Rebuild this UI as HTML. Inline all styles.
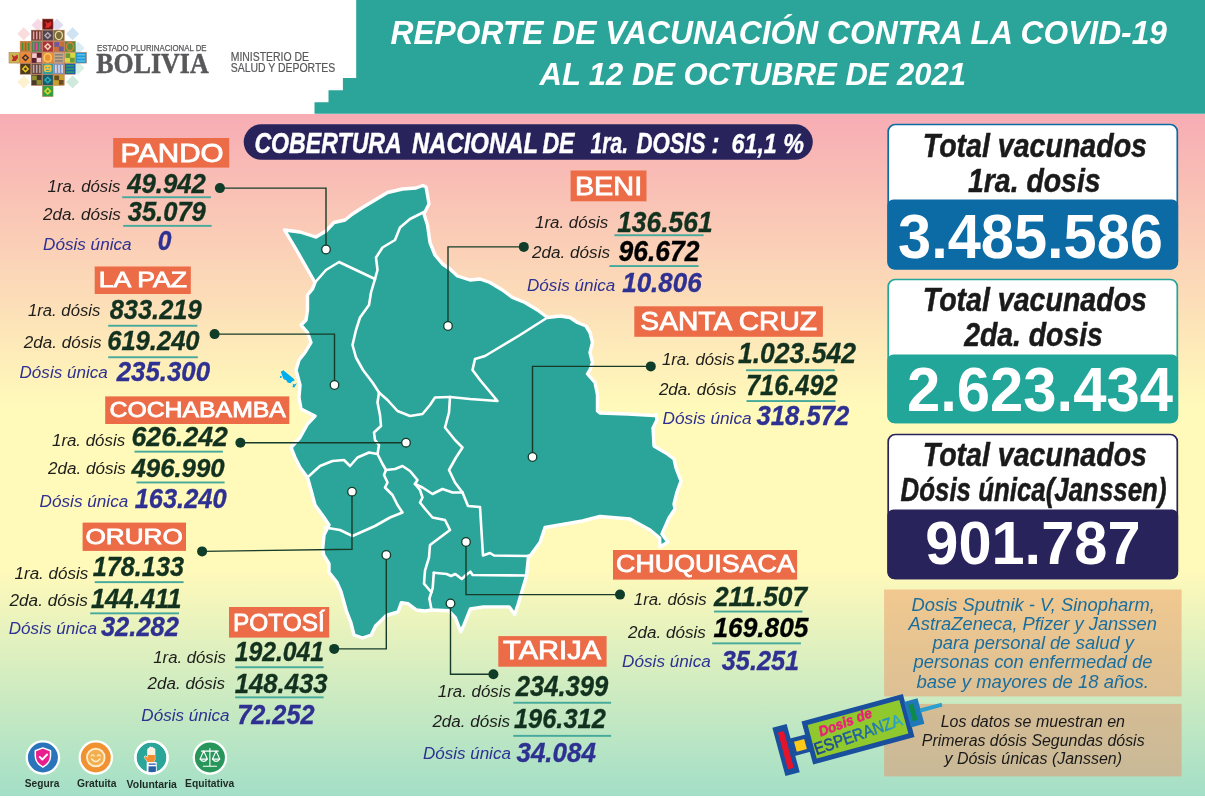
<!DOCTYPE html>
<html lang="es">
<head>
<meta charset="utf-8">
<title>Reporte de vacunación contra la COVID-19</title>
<style>
html,body{margin:0;padding:0;background:#fff;}
body{width:1205px;height:799px;overflow:hidden;font-family:'Liberation Sans', sans-serif;}
svg{display:block;}
text{white-space:pre;}
</style>
</head>
<body>
<svg width="1205" height="799" viewBox="0 0 1205 799">
<defs>
<linearGradient id="bg" x1="0" y1="0" x2="0" y2="1">
<stop offset="0" stop-color="#f7acb4"/>
<stop offset="0.425" stop-color="#fff9ba"/>
<stop offset="0.670" stop-color="#fff9ba"/>
<stop offset="1" stop-color="#a3dfc7"/>
</linearGradient>
<linearGradient id="esp" x1="0" y1="0" x2="1" y2="0">
<stop offset="0" stop-color="#1b3f8f"/><stop offset="0.6" stop-color="#1f6aa8"/><stop offset="1" stop-color="#2fb0c8"/>
</linearGradient>
<linearGradient id="ib1" x1="0" y1="0" x2="0" y2="1"><stop offset="0" stop-color="#f1c88f"/><stop offset="1" stop-color="#dcc094"/></linearGradient>
<linearGradient id="ib2" x1="0" y1="0" x2="0" y2="1"><stop offset="0" stop-color="#d5bc94"/><stop offset="1" stop-color="#c9b997"/></linearGradient>
</defs>

<rect x="0" y="0" width="1205" height="799" fill="#ffffff"/>
<rect x="0" y="114" width="1205" height="682" fill="url(#bg)"/>
<path d="M356.2,0 H1205 V113.7 H314.5 V102.2 H328.5 V90.2 H342.9 V78 H356.2 Z" fill="#2ba59a"/>
<text x="390.5" y="43.5" font-family="'Liberation Sans', sans-serif" font-size="34.0" font-weight="bold" font-style="italic" fill="#ffffff" textLength="776.5" lengthAdjust="spacingAndGlyphs">REPORTE DE VACUNACIÓN CONTRA LA COVID-19</text>
<text x="539.5" y="84.6" font-family="'Liberation Sans', sans-serif" font-size="31.0" font-weight="bold" font-style="italic" fill="#ffffff" textLength="426.5" lengthAdjust="spacingAndGlyphs">AL 12 DE OCTUBRE DE 2021</text>
<rect x="19.2" y="29.2" width="9.2" height="9.2" fill="#f9dcdc" transform="rotate(45 23.8 33.8)"/>
<rect x="68.0" y="29.2" width="9.2" height="9.2" fill="#cfe3f2" transform="rotate(45 72.6 33.8)"/>
<rect x="19.2" y="77.4" width="9.2" height="9.2" fill="#fdf1cf" transform="rotate(45 23.8 82)"/>
<rect x="68.0" y="77.4" width="9.2" height="9.2" fill="#cfe9dc" transform="rotate(45 72.6 82)"/>
<rect x="13.4" y="53.4" width="9.2" height="9.2" fill="#f6d5d8" transform="rotate(45 18 58)"/>
<rect x="73.4" y="43.4" width="9.2" height="9.2" fill="#d8ecf2" transform="rotate(45 78 48)"/>
<rect x="73.4" y="63.4" width="9.2" height="9.2" fill="#d8efe4" transform="rotate(45 78 68)"/>
<rect x="33.4" y="20.4" width="9.2" height="9.2" fill="#f6d8e6" transform="rotate(45 38 25)"/>
<rect x="52.4" y="20.4" width="9.2" height="9.2" fill="#e0dcf0" transform="rotate(45 57 25)"/>
<rect x="42.42" y="19.00" width="10.64" height="10.64" fill="#6d1418" stroke="#b5714a" stroke-width="0.5"/>
<path d="M44.92,21.20 l3,2 l3,-2 l0.5,3.5 l-2.5,3 l-4,0 l1.5,-2.5 z" fill="#e02a2a"/>
<rect x="31.28" y="30.14" width="10.64" height="10.64" fill="#6b3a2e" stroke="#b5714a" stroke-width="0.5"/>
<rect x="32.88" y="31.44" width="1.5" height="8.04" fill="#e6a0a8"/>
<rect x="35.98" y="31.44" width="1.5" height="8.04" fill="#e6a0a8"/>
<rect x="39.08" y="31.44" width="1.5" height="8.04" fill="#e6a0a8"/>
<rect x="42.42" y="30.14" width="10.64" height="10.64" fill="#4e4450" stroke="#b5714a" stroke-width="0.5"/>
<path d="M47.74,31.64 L51.56,35.46 L47.74,39.28 L43.92,35.46 Z" fill="#b8a8b0"/>
<rect x="46.54" y="34.26" width="2.4" height="2.4" fill="#4e4450" transform="rotate(45 47.74 35.46)"/>
<rect x="53.56" y="30.14" width="10.64" height="10.64" fill="#7a6a3a" stroke="#b5714a" stroke-width="0.5"/>
<ellipse cx="58.88" cy="35.46" rx="3.52" ry="4.12" fill="none" stroke="#e8d8a0" stroke-width="1.4"/>
<rect x="20.14" y="41.28" width="10.64" height="10.64" fill="#d87a2a" stroke="#b5714a" stroke-width="0.5"/>
<rect x="21.74" y="42.58" width="1.5" height="8.04" fill="#4a8a3a"/>
<rect x="24.84" y="42.58" width="1.5" height="8.04" fill="#4a8a3a"/>
<rect x="27.94" y="42.58" width="1.5" height="8.04" fill="#4a8a3a"/>
<rect x="31.28" y="41.28" width="10.64" height="10.64" fill="#3a8a4a" stroke="#b5714a" stroke-width="0.5"/>
<rect x="32.88" y="42.58" width="1.5" height="8.04" fill="#e84aa0"/>
<rect x="35.98" y="42.58" width="1.5" height="8.04" fill="#e84aa0"/>
<rect x="39.08" y="42.58" width="1.5" height="8.04" fill="#e84aa0"/>
<rect x="42.42" y="41.28" width="10.64" height="10.64" fill="#a8323a" stroke="#b5714a" stroke-width="0.5"/>
<path d="M47.74,42.78 L51.56,46.60 L47.74,50.42 L43.92,46.60 Z" fill="#f0d0b0"/>
<rect x="46.54" y="45.40" width="2.4" height="2.4" fill="#a8323a" transform="rotate(45 47.74 46.60)"/>
<rect x="53.56" y="41.28" width="10.64" height="10.64" fill="#c8703a" stroke="#b5714a" stroke-width="0.5"/>
<rect x="54.36" y="42.08" width="4.72" height="4.72" fill="#6a5aa0"/>
<rect x="58.88" y="46.60" width="4.72" height="4.72" fill="#6a5aa0"/>
<rect x="64.70" y="41.28" width="10.64" height="10.64" fill="#5a8a3a" stroke="#b5714a" stroke-width="0.5"/>
<ellipse cx="70.02" cy="46.60" rx="3.52" ry="4.12" fill="none" stroke="#d8803a" stroke-width="1.4"/>
<rect x="9.00" y="52.42" width="10.64" height="10.64" fill="#c8b850" stroke="#b5714a" stroke-width="0.5"/>
<path d="M11.50,54.62 l3,2 l3,-2 l0.5,3.5 l-2.5,3 l-4,0 l1.5,-2.5 z" fill="#c02a2a"/>
<rect x="20.14" y="52.42" width="10.64" height="10.64" fill="#f08a30" stroke="#b5714a" stroke-width="0.5"/>
<path d="M25.46,53.92 L29.28,57.74 L25.46,61.56 L21.64,57.74 Z" fill="#3a3030"/>
<rect x="24.26" y="56.54" width="2.4" height="2.4" fill="#f08a30" transform="rotate(45 25.46 57.74)"/>
<rect x="31.28" y="52.42" width="10.64" height="10.64" fill="#5a2030" stroke="#b5714a" stroke-width="0.5"/>
<rect x="32.08" y="53.22" width="4.72" height="4.72" fill="#f4c8c8"/>
<rect x="36.60" y="57.74" width="4.72" height="4.72" fill="#f4c8c8"/>
<rect x="42.42" y="52.42" width="10.64" height="10.64" fill="#f09030" stroke="#b5714a" stroke-width="0.5"/>
<ellipse cx="47.74" cy="57.74" rx="3.52" ry="4.12" fill="none" stroke="#fbd070" stroke-width="1.4"/>
<rect x="53.56" y="52.42" width="10.64" height="10.64" fill="#c8a880" stroke="#b5714a" stroke-width="0.5"/>
<rect x="54.86" y="54.02" width="8.04" height="1.5" fill="#808080"/>
<rect x="54.86" y="57.12" width="8.04" height="1.5" fill="#808080"/>
<rect x="54.86" y="60.22" width="8.04" height="1.5" fill="#808080"/>
<rect x="64.70" y="52.42" width="10.64" height="10.64" fill="#d8d840" stroke="#b5714a" stroke-width="0.5"/>
<rect x="65.50" y="53.22" width="4.72" height="4.72" fill="#6a9a3a"/>
<rect x="70.02" y="57.74" width="4.72" height="4.72" fill="#6a9a3a"/>
<rect x="75.84" y="52.42" width="10.64" height="10.64" fill="#1f9ad6" stroke="#b5714a" stroke-width="0.5"/>
<rect x="77.14" y="54.02" width="8.04" height="1.5" fill="#58c0ea"/>
<rect x="77.14" y="57.12" width="8.04" height="1.5" fill="#58c0ea"/>
<rect x="77.14" y="60.22" width="8.04" height="1.5" fill="#58c0ea"/>
<rect x="20.14" y="63.56" width="10.64" height="10.64" fill="#4a3a20" stroke="#b5714a" stroke-width="0.5"/>
<path d="M25.46,65.06 L29.28,68.88 L25.46,72.70 L21.64,68.88 Z" fill="#e8c020"/>
<rect x="24.26" y="67.68" width="2.4" height="2.4" fill="#4a3a20" transform="rotate(45 25.46 68.88)"/>
<rect x="31.28" y="63.56" width="10.64" height="10.64" fill="#6a4a40" stroke="#b5714a" stroke-width="0.5"/>
<rect x="32.88" y="64.86" width="1.5" height="8.04" fill="#b8a8a8"/>
<rect x="35.98" y="64.86" width="1.5" height="8.04" fill="#b8a8a8"/>
<rect x="39.08" y="64.86" width="1.5" height="8.04" fill="#b8a8a8"/>
<rect x="42.42" y="63.56" width="10.64" height="10.64" fill="#30a0a0" stroke="#b5714a" stroke-width="0.5"/>
<rect x="43.92" y="64.76" width="7.64" height="7.14" rx="2" fill="#f0c040"/>
<rect x="45.42" y="67.16" width="1.6" height="1" fill="#30a0a0"/><rect x="48.42" y="67.16" width="1.6" height="1" fill="#30a0a0"/><rect x="46.02" y="69.96" width="3.4" height="1" fill="#30a0a0"/>
<rect x="53.56" y="63.56" width="10.64" height="10.64" fill="#8090c0" stroke="#b5714a" stroke-width="0.5"/>
<rect x="55.16" y="64.86" width="1.5" height="8.04" fill="#e0e0e0"/>
<rect x="58.26" y="64.86" width="1.5" height="8.04" fill="#e0e0e0"/>
<rect x="61.36" y="64.86" width="1.5" height="8.04" fill="#e0e0e0"/>
<rect x="64.70" y="63.56" width="10.64" height="10.64" fill="#2060a8" stroke="#b5714a" stroke-width="0.5"/>
<rect x="66.00" y="65.16" width="8.04" height="1.5" fill="#30a060"/>
<rect x="66.00" y="68.26" width="8.04" height="1.5" fill="#30a060"/>
<rect x="66.00" y="71.36" width="8.04" height="1.5" fill="#30a060"/>
<rect x="31.28" y="74.70" width="10.64" height="10.64" fill="#4a3a28" stroke="#b5714a" stroke-width="0.5"/>
<rect x="32.08" y="75.50" width="4.72" height="4.72" fill="#909030"/>
<rect x="36.60" y="80.02" width="4.72" height="4.72" fill="#909030"/>
<rect x="42.42" y="74.70" width="10.64" height="10.64" fill="#1d5a68" stroke="#b5714a" stroke-width="0.5"/>
<path d="M47.74,76.20 L51.56,80.02 L47.74,83.84 L43.92,80.02 Z" fill="#20b0c0"/>
<rect x="46.54" y="78.82" width="2.4" height="2.4" fill="#1d5a68" transform="rotate(45 47.74 80.02)"/>
<rect x="53.56" y="74.70" width="10.64" height="10.64" fill="#c8a030" stroke="#b5714a" stroke-width="0.5"/>
<rect x="54.36" y="75.50" width="4.72" height="4.72" fill="#6a4a20"/>
<rect x="58.88" y="80.02" width="4.72" height="4.72" fill="#6a4a20"/>
<rect x="42.42" y="85.84" width="10.64" height="10.64" fill="#30a040" stroke="#b5714a" stroke-width="0.5"/>
<path d="M47.74,87.34 L51.56,91.16 L47.74,94.98 L43.92,91.16 Z" fill="#d8d830"/>
<rect x="46.54" y="89.96" width="2.4" height="2.4" fill="#30a040" transform="rotate(45 47.74 91.16)"/>
<text x="97.0" y="50.6" font-family="'Liberation Sans', sans-serif" font-size="8.8" font-weight="normal" font-style="normal" fill="#58585a" textLength="109.5" lengthAdjust="spacingAndGlyphs" stroke="#58585a" stroke-width="0.25">ESTADO PLURINACIONAL DE</text>
<text x="96.3" y="72.5" font-family="'Liberation Serif', serif" font-size="29.6" font-weight="bold" font-style="normal" fill="#58585a" textLength="112.3" lengthAdjust="spacingAndGlyphs" stroke="#58585a" stroke-width="0.5">BOLIVIA</text>
<text x="230.7" y="60.8" font-family="'Liberation Sans', sans-serif" font-size="12.6" font-weight="normal" font-style="normal" fill="#58585a" textLength="78.3" lengthAdjust="spacingAndGlyphs" stroke="#58585a" stroke-width="0.2">MINISTERIO DE</text>
<text x="230.7" y="72.1" font-family="'Liberation Sans', sans-serif" font-size="12.6" font-weight="normal" font-style="normal" fill="#58585a" textLength="104.6" lengthAdjust="spacingAndGlyphs" stroke="#58585a" stroke-width="0.2">SALUD Y DEPORTES</text>
<rect x="243.7" y="124.2" width="569.1" height="35.6" rx="17.8" fill="#29235c"/>
<text x="254.4" y="153.0" font-family="'Liberation Sans', sans-serif" font-size="30.0" font-weight="bold" font-style="italic" fill="#ffffff" textLength="147.4" lengthAdjust="spacingAndGlyphs" stroke="#ffffff" stroke-width="0.45">COBERTURA</text>
<text x="412.0" y="153.0" font-family="'Liberation Sans', sans-serif" font-size="30.0" font-weight="bold" font-style="italic" fill="#ffffff" textLength="126.0" lengthAdjust="spacingAndGlyphs" stroke="#ffffff" stroke-width="0.45">NACIONAL</text>
<text x="542.4" y="153.0" font-family="'Liberation Sans', sans-serif" font-size="30.0" font-weight="bold" font-style="italic" fill="#ffffff" textLength="32.1" lengthAdjust="spacingAndGlyphs" stroke="#ffffff" stroke-width="0.45">DE</text>
<text x="590.5" y="153.0" font-family="'Liberation Sans', sans-serif" font-size="30.0" font-weight="bold" font-style="italic" fill="#ffffff" textLength="37.5" lengthAdjust="spacingAndGlyphs" stroke="#ffffff" stroke-width="0.45">1ra.</text>
<text x="636.5" y="153.0" font-family="'Liberation Sans', sans-serif" font-size="30.0" font-weight="bold" font-style="italic" fill="#ffffff" textLength="69.0" lengthAdjust="spacingAndGlyphs" stroke="#ffffff" stroke-width="0.45">DOSIS</text>
<text x="711.5" y="153.0" font-family="'Liberation Sans', sans-serif" font-size="30.0" font-weight="bold" font-style="italic" fill="#ffffff" textLength="8.0" lengthAdjust="spacingAndGlyphs" stroke="#ffffff" stroke-width="0.45">:</text>
<text x="731.5" y="153.0" font-family="'Liberation Sans', sans-serif" font-size="27.5" font-weight="bold" font-style="italic" fill="#ffffff" textLength="72.5" lengthAdjust="spacingAndGlyphs" stroke="#ffffff" stroke-width="0.4">61,1 %</text>
<polygon points="284.5,230.0 300.0,232.0 311.0,235.5 316.0,237.0 326.0,231.0 334.0,222.5 345.0,220.0 352.5,214.0 362.5,207.5 375.0,200.0 387.5,192.5 402.5,189.0 416.0,188.0 423.0,185.5 426.0,187.0 427.5,195.0 429.0,204.0 424.0,214.0 427.5,225.0 430.0,242.5 435.0,255.0 442.5,264.0 450.0,269.0 457.5,276.0 470.0,280.0 480.0,279.0 490.0,282.5 502.5,290.0 512.5,297.5 525.0,302.5 537.5,310.0 547.5,317.5 560.0,316.0 570.0,317.5 577.5,322.5 586.0,326.0 590.0,332.5 592.5,342.5 590.0,352.5 592.5,362.5 590.0,370.0 587.5,374.0 595.0,382.5 597.5,395.0 597.5,411.0 600.0,413.0 628.0,414.0 654.0,415.6 656.0,414.5 657.0,420.0 653.0,428.0 654.0,446.0 666.0,453.0 674.0,459.0 676.0,468.0 681.0,481.0 677.0,492.0 674.0,504.0 675.0,509.0 669.0,518.0 662.0,534.0 668.0,542.0 660.0,547.0 659.6,538.0 650.0,530.0 630.0,519.0 600.0,516.5 582.5,521.0 545.0,527.5 540.0,542.5 530.0,556.0 528.5,556.0 526.5,576.0 518.0,604.7 514.7,614.4 509.3,606.9 483.4,606.9 470.4,609.0 464.0,625.0 460.7,631.7 455.3,617.7 448.9,610.8 431.6,610.0 425.0,611.0 416.5,610.0 407.9,603.6 401.4,602.6 398.0,612.0 386.3,615.5 375.5,626.0 371.2,635.0 362.6,638.0 354.0,635.0 350.7,622.0 346.4,611.0 341.0,591.8 336.7,582.0 329.0,572.4 329.0,563.7 323.7,555.0 322.7,548.6 324.0,535.0 329.0,525.0 324.0,517.5 315.0,505.0 311.0,490.0 307.5,477.5 300.0,467.5 295.0,457.5 291.0,447.5 300.0,437.5 307.5,424.0 315.0,416.0 301.0,409.0 299.0,397.5 300.0,385.0 296.0,370.0 299.0,360.0 305.0,352.5 311.0,342.5 307.5,332.5 301.0,325.0 306.0,320.0 307.5,310.0 307.5,295.0 312.5,289.0 315.0,282.5 305.0,265.0 295.0,247.5" fill="#2ba59a" stroke="#ffffff" stroke-width="3.4" stroke-linejoin="round"/>
<polyline points="315.0,282.5 326.0,270.0 339.0,262.0 375.0,279.0" fill="none" stroke="#ffffff" stroke-width="2.6" stroke-linejoin="round" stroke-linecap="round"/>
<polyline points="424.0,212.0 410.0,219.0 400.0,227.5 395.0,240.0 382.5,247.5 376.0,257.5 377.5,270.0 375.0,279.0" fill="none" stroke="#ffffff" stroke-width="2.6" stroke-linejoin="round" stroke-linecap="round"/>
<polyline points="375.0,279.0 371.0,292.5 369.0,305.0 360.0,317.5 356.0,330.0 352.5,345.0 356.0,357.5 363.0,370.0 372.5,382.5 379.0,392.5" fill="none" stroke="#ffffff" stroke-width="2.6" stroke-linejoin="round" stroke-linecap="round"/>
<polyline points="379.0,392.5 387.5,400.0 397.5,411.0 410.0,416.0 422.5,414.0 430.0,405.0 435.0,397.5 450.0,397.0" fill="none" stroke="#ffffff" stroke-width="2.6" stroke-linejoin="round" stroke-linecap="round"/>
<polyline points="450.0,397.0 470.0,399.0 497.5,401.0 480.0,380.0 472.5,370.0 475.0,359.0 485.0,356.0 495.0,350.0 520.0,335.0 547.5,317.5" fill="none" stroke="#ffffff" stroke-width="2.6" stroke-linejoin="round" stroke-linecap="round"/>
<polyline points="379.0,392.5 377.5,402.5 380.0,415.0 381.0,426.0 374.0,432.5 375.0,440.0 379.0,445.0 377.5,454.0" fill="none" stroke="#ffffff" stroke-width="2.6" stroke-linejoin="round" stroke-linecap="round"/>
<polyline points="377.5,454.0 369.0,452.5 357.5,457.5 350.0,466.0 344.0,460.0 332.5,461.0 320.0,466.0 309.0,476.0" fill="none" stroke="#ffffff" stroke-width="2.6" stroke-linejoin="round" stroke-linecap="round"/>
<polyline points="377.5,454.0 382.5,464.0 386.0,470.0" fill="none" stroke="#ffffff" stroke-width="2.6" stroke-linejoin="round" stroke-linecap="round"/>
<polyline points="386.0,470.0 384.0,475.0 387.5,482.5 385.0,487.5 392.5,495.0 397.5,505.0 402.5,512.5 390.0,517.5 375.0,526.0 352.5,536.0 340.0,530.0 325.0,527.5" fill="none" stroke="#ffffff" stroke-width="2.6" stroke-linejoin="round" stroke-linecap="round"/>
<polyline points="386.0,470.0 395.0,469.0 402.5,466.0 410.0,471.0 417.5,480.0 415.0,484.0" fill="none" stroke="#ffffff" stroke-width="2.6" stroke-linejoin="round" stroke-linecap="round"/>
<polyline points="450.0,397.0 449.0,412.5 445.0,427.5 455.0,440.0 462.5,447.5 456.0,457.5 449.0,470.0 455.0,482.5 462.5,492.5" fill="none" stroke="#ffffff" stroke-width="2.6" stroke-linejoin="round" stroke-linecap="round"/>
<polyline points="415.0,484.0 422.5,487.5 432.5,494.0 442.5,489.0 452.5,492.5 462.5,492.5" fill="none" stroke="#ffffff" stroke-width="2.6" stroke-linejoin="round" stroke-linecap="round"/>
<polyline points="415.0,484.0 420.0,490.0 422.5,497.5 420.0,502.5 426.0,510.0 432.5,517.5 445.0,520.0 450.0,530.0 440.0,537.5 430.0,545.0 429.0,557.5 425.0,570.6 424.0,583.6 429.4,590.0 431.5,592.0" fill="none" stroke="#ffffff" stroke-width="2.6" stroke-linejoin="round" stroke-linecap="round"/>
<polyline points="462.5,492.5 468.0,506.0 480.0,507.0 483.0,555.5 490.0,553.0 494.0,555.5 528.5,556.0" fill="none" stroke="#ffffff" stroke-width="2.6" stroke-linejoin="round" stroke-linecap="round"/>
<polyline points="526.5,575.5 472.6,575.0 470.4,571.7 466.0,575.0 461.8,579.0 455.3,574.0 451.0,576.0 446.7,574.0 433.8,572.8" fill="none" stroke="#ffffff" stroke-width="2.6" stroke-linejoin="round" stroke-linecap="round"/>
<polyline points="433.8,572.8 432.7,588.0 429.4,598.7 431.6,610.0" fill="none" stroke="#ffffff" stroke-width="2.6" stroke-linejoin="round" stroke-linecap="round"/>
<path d="M280.8,371.8 L283.3,370.2 L294,379 L294.6,380.6 L292,381.6 L290.5,383.2 L287.5,382.6 L286.5,380.5 L283.5,379 L282.3,376 Z" fill="#00aeef"/>
<path d="M292.4,383.6 L294.3,384.4 L297,383.2 L294.2,387.6 L292.3,387 L293.2,385.2 Z" fill="#00aeef"/>
<circle cx="280.8" cy="377" r="1" fill="#00aeef"/>
<polyline points="219.9,188.1 326.0,188.1 326.0,249.5" fill="none" stroke="#173b29" stroke-width="1.4"/>
<circle cx="219.9" cy="188.1" r="5" fill="#0f3d2a"/>
<circle cx="326" cy="249.5" r="4.3" fill="#ffffff" stroke="#173b29" stroke-width="1.3"/>
<polyline points="214.6,334.1 334.5,334.1 334.5,385.0" fill="none" stroke="#173b29" stroke-width="1.4"/>
<circle cx="214.6" cy="334.1" r="5" fill="#0f3d2a"/>
<circle cx="334.5" cy="385" r="4.3" fill="#ffffff" stroke="#173b29" stroke-width="1.3"/>
<polyline points="240.4,442.7 406.0,442.7" fill="none" stroke="#173b29" stroke-width="1.4"/>
<circle cx="240.4" cy="442.7" r="5" fill="#0f3d2a"/>
<circle cx="406" cy="442.7" r="4.3" fill="#ffffff" stroke="#173b29" stroke-width="1.3"/>
<polyline points="202.1,551.4 352.0,549.2 352.0,491.7" fill="none" stroke="#173b29" stroke-width="1.4"/>
<circle cx="202.1" cy="551.4" r="5" fill="#0f3d2a"/>
<circle cx="352" cy="491.7" r="4.3" fill="#ffffff" stroke="#173b29" stroke-width="1.3"/>
<polyline points="334.2,648.9 386.3,648.9 386.3,555.0" fill="none" stroke="#173b29" stroke-width="1.4"/>
<circle cx="334.2" cy="648.9" r="5" fill="#0f3d2a"/>
<circle cx="386.3" cy="555" r="4.3" fill="#ffffff" stroke="#173b29" stroke-width="1.3"/>
<polyline points="523.8,246.9 448.0,246.9 448.0,326.0" fill="none" stroke="#173b29" stroke-width="1.4"/>
<circle cx="523.8" cy="246.9" r="5" fill="#0f3d2a"/>
<circle cx="448" cy="326" r="4.3" fill="#ffffff" stroke="#173b29" stroke-width="1.3"/>
<polyline points="650.8,366.4 532.5,366.4 532.5,457.0" fill="none" stroke="#173b29" stroke-width="1.4"/>
<circle cx="650.8" cy="366.4" r="5" fill="#0f3d2a"/>
<circle cx="532.5" cy="457" r="4.3" fill="#ffffff" stroke="#173b29" stroke-width="1.3"/>
<polyline points="620.0,594.6 466.0,594.6 466.0,542.0" fill="none" stroke="#173b29" stroke-width="1.4"/>
<circle cx="620" cy="594.6" r="5" fill="#0f3d2a"/>
<circle cx="466" cy="542" r="4.3" fill="#ffffff" stroke="#173b29" stroke-width="1.3"/>
<polyline points="493.4,674.2 450.5,674.2 450.5,603.5" fill="none" stroke="#173b29" stroke-width="1.4"/>
<circle cx="493.4" cy="674.2" r="5" fill="#0f3d2a"/>
<circle cx="450.5" cy="603.5" r="4.3" fill="#ffffff" stroke="#173b29" stroke-width="1.3"/>
<rect x="113.2" y="138.0" width="116.0" height="29.6" fill="#ec6c48"/>
<text x="120.5" y="161.7" font-family="'Liberation Sans', sans-serif" font-size="25.9" font-weight="normal" font-style="normal" fill="#ffffff" textLength="103.1" lengthAdjust="spacingAndGlyphs" stroke="#ffffff" stroke-width="0.8">PANDO</text>
<text x="47.6" y="192.3" font-family="'Liberation Sans', sans-serif" font-size="16.8" font-weight="normal" font-style="italic" fill="#1d1d1b" textLength="72.7" lengthAdjust="spacingAndGlyphs">1ra. dósis</text>
<text x="127.2" y="192.6" font-family="'Liberation Sans', sans-serif" font-size="27.8" font-weight="bold" font-style="italic" fill="#12321f" textLength="78.6" lengthAdjust="spacingAndGlyphs" stroke="#12321f" stroke-width="0.35">49.942</text>
<rect x="122.2" y="196.3" width="88.7" height="1.9" fill="#45a99b"/>
<text x="43.0" y="220.0" font-family="'Liberation Sans', sans-serif" font-size="16.8" font-weight="normal" font-style="italic" fill="#1d1d1b" textLength="77.8" lengthAdjust="spacingAndGlyphs">2da. dósis</text>
<text x="127.7" y="220.7" font-family="'Liberation Sans', sans-serif" font-size="27.3" font-weight="bold" font-style="italic" fill="#12321f" textLength="78.1" lengthAdjust="spacingAndGlyphs" stroke="#12321f" stroke-width="0.35">35.079</text>
<rect x="123.2" y="224.9" width="88.4" height="1.9" fill="#45a99b"/>
<text x="43.0" y="250.0" font-family="'Liberation Sans', sans-serif" font-size="16.8" font-weight="normal" font-style="italic" fill="#2e3192" textLength="88.6" lengthAdjust="spacingAndGlyphs">Dósis única</text>
<text x="157.8" y="250.2" font-family="'Liberation Sans', sans-serif" font-size="27.0" font-weight="bold" font-style="italic" fill="#2e3192" textLength="13.7" lengthAdjust="spacingAndGlyphs" stroke="#2e3192" stroke-width="0.35">0</text>
<rect x="94.7" y="266.5" width="96.1" height="27.5" fill="#ec6c48"/>
<text x="98.7" y="287.0" font-family="'Liberation Sans', sans-serif" font-size="21.4" font-weight="normal" font-style="normal" fill="#ffffff" textLength="88.3" lengthAdjust="spacingAndGlyphs" stroke="#ffffff" stroke-width="0.8">LA PAZ</text>
<text x="28.0" y="316.1" font-family="'Liberation Sans', sans-serif" font-size="16.8" font-weight="normal" font-style="italic" fill="#1d1d1b" textLength="72.3" lengthAdjust="spacingAndGlyphs">1ra. dósis</text>
<text x="109.7" y="319.0" font-family="'Liberation Sans', sans-serif" font-size="28.1" font-weight="bold" font-style="italic" fill="#12321f" textLength="91.9" lengthAdjust="spacingAndGlyphs" stroke="#12321f" stroke-width="0.35">833.219</text>
<rect x="108.2" y="324.8" width="89.1" height="1.9" fill="#45a99b"/>
<text x="23.8" y="347.9" font-family="'Liberation Sans', sans-serif" font-size="16.8" font-weight="normal" font-style="italic" fill="#1d1d1b" textLength="77.8" lengthAdjust="spacingAndGlyphs">2da. dósis</text>
<text x="107.2" y="350.1" font-family="'Liberation Sans', sans-serif" font-size="27.0" font-weight="bold" font-style="italic" fill="#12321f" textLength="92.4" lengthAdjust="spacingAndGlyphs" stroke="#12321f" stroke-width="0.35">619.240</text>
<rect x="108.2" y="356.3" width="89.6" height="1.9" fill="#45a99b"/>
<text x="19.5" y="377.9" font-family="'Liberation Sans', sans-serif" font-size="16.8" font-weight="normal" font-style="italic" fill="#2e3192" textLength="88.3" lengthAdjust="spacingAndGlyphs">Dósis única</text>
<text x="116.7" y="381.1" font-family="'Liberation Sans', sans-serif" font-size="27.8" font-weight="bold" font-style="italic" fill="#2e3192" textLength="93.4" lengthAdjust="spacingAndGlyphs" stroke="#2e3192" stroke-width="0.35">235.300</text>
<rect x="105.2" y="396.4" width="184.1" height="27.6" fill="#ec6c48"/>
<text x="109.5" y="417.4" font-family="'Liberation Sans', sans-serif" font-size="21.4" font-weight="normal" font-style="normal" fill="#ffffff" textLength="176.4" lengthAdjust="spacingAndGlyphs" stroke="#ffffff" stroke-width="0.8">COCHABAMBA</text>
<text x="52.0" y="445.6" font-family="'Liberation Sans', sans-serif" font-size="16.8" font-weight="normal" font-style="italic" fill="#1d1d1b" textLength="73.1" lengthAdjust="spacingAndGlyphs">1ra. dósis</text>
<text x="131.5" y="446.3" font-family="'Liberation Sans', sans-serif" font-size="27.9" font-weight="bold" font-style="italic" fill="#12321f" textLength="96.4" lengthAdjust="spacingAndGlyphs" stroke="#12321f" stroke-width="0.35">626.242</text>
<rect x="134.5" y="450.7" width="88.4" height="1.9" fill="#45a99b"/>
<text x="48.0" y="474.3" font-family="'Liberation Sans', sans-serif" font-size="16.8" font-weight="normal" font-style="italic" fill="#1d1d1b" textLength="77.8" lengthAdjust="spacingAndGlyphs">2da. dósis</text>
<text x="131.5" y="477.1" font-family="'Liberation Sans', sans-serif" font-size="26.6" font-weight="bold" font-style="italic" fill="#12321f" textLength="93.1" lengthAdjust="spacingAndGlyphs" stroke="#12321f" stroke-width="0.35">496.990</text>
<rect x="136.5" y="481.5" width="88.1" height="1.9" fill="#45a99b"/>
<text x="39.6" y="506.6" font-family="'Liberation Sans', sans-serif" font-size="16.8" font-weight="normal" font-style="italic" fill="#2e3192" textLength="88.7" lengthAdjust="spacingAndGlyphs">Dósis única</text>
<text x="134.7" y="507.5" font-family="'Liberation Sans', sans-serif" font-size="27.8" font-weight="bold" font-style="italic" fill="#2e3192" textLength="91.9" lengthAdjust="spacingAndGlyphs" stroke="#2e3192" stroke-width="0.35">163.240</text>
<rect x="82.6" y="522.6" width="103.4" height="28.3" fill="#ec6c48"/>
<text x="85.5" y="544.3" font-family="'Liberation Sans', sans-serif" font-size="22.4" font-weight="normal" font-style="normal" fill="#ffffff" textLength="97.3" lengthAdjust="spacingAndGlyphs" stroke="#ffffff" stroke-width="0.8">ORURO</text>
<text x="14.5" y="578.5" font-family="'Liberation Sans', sans-serif" font-size="16.8" font-weight="normal" font-style="italic" fill="#1d1d1b" textLength="73.8" lengthAdjust="spacingAndGlyphs">1ra. dósis</text>
<text x="92.7" y="575.7" font-family="'Liberation Sans', sans-serif" font-size="27.8" font-weight="bold" font-style="italic" fill="#12321f" textLength="91.3" lengthAdjust="spacingAndGlyphs" stroke="#12321f" stroke-width="0.35">178.133</text>
<rect x="94.7" y="581.2" width="88.9" height="1.9" fill="#45a99b"/>
<text x="9.5" y="606.3" font-family="'Liberation Sans', sans-serif" font-size="16.8" font-weight="normal" font-style="italic" fill="#1d1d1b" textLength="78.3" lengthAdjust="spacingAndGlyphs">2da. dósis</text>
<text x="90.9" y="607.7" font-family="'Liberation Sans', sans-serif" font-size="27.8" font-weight="bold" font-style="italic" fill="#12321f" textLength="90.6" lengthAdjust="spacingAndGlyphs" stroke="#12321f" stroke-width="0.35">144.411</text>
<rect x="90.2" y="612.4" width="88.8" height="1.9" fill="#45a99b"/>
<text x="8.8" y="634.3" font-family="'Liberation Sans', sans-serif" font-size="16.8" font-weight="normal" font-style="italic" fill="#2e3192" textLength="88.2" lengthAdjust="spacingAndGlyphs">Dósis única</text>
<text x="100.9" y="636.3" font-family="'Liberation Sans', sans-serif" font-size="27.4" font-weight="bold" font-style="italic" fill="#2e3192" textLength="78.1" lengthAdjust="spacingAndGlyphs" stroke="#2e3192" stroke-width="0.35">32.282</text>
<rect x="229.0" y="607.0" width="100.2" height="30.6" fill="#ec6c48"/>
<text x="233.0" y="631.0" font-family="'Liberation Sans', sans-serif" font-size="24.1" font-weight="normal" font-style="normal" fill="#ffffff" textLength="91.8" lengthAdjust="spacingAndGlyphs" stroke="#ffffff" stroke-width="0.8">POTOSÍ</text>
<text x="153.3" y="663.4" font-family="'Liberation Sans', sans-serif" font-size="16.8" font-weight="normal" font-style="italic" fill="#1d1d1b" textLength="72.5" lengthAdjust="spacingAndGlyphs">1ra. dósis</text>
<text x="234.7" y="661.1" font-family="'Liberation Sans', sans-serif" font-size="27.4" font-weight="bold" font-style="italic" fill="#12321f" textLength="89.4" lengthAdjust="spacingAndGlyphs" stroke="#12321f" stroke-width="0.35">192.041</text>
<rect x="235.2" y="666.3" width="88.4" height="1.9" fill="#45a99b"/>
<text x="147.6" y="688.7" font-family="'Liberation Sans', sans-serif" font-size="16.8" font-weight="normal" font-style="italic" fill="#1d1d1b" textLength="77.5" lengthAdjust="spacingAndGlyphs">2da. dósis</text>
<text x="234.7" y="692.7" font-family="'Liberation Sans', sans-serif" font-size="28.2" font-weight="bold" font-style="italic" fill="#12321f" textLength="92.9" lengthAdjust="spacingAndGlyphs" stroke="#12321f" stroke-width="0.35">148.433</text>
<rect x="235.2" y="696.4" width="88.4" height="1.9" fill="#45a99b"/>
<text x="141.3" y="720.5" font-family="'Liberation Sans', sans-serif" font-size="16.8" font-weight="normal" font-style="italic" fill="#2e3192" textLength="88.3" lengthAdjust="spacingAndGlyphs">Dósis única</text>
<text x="237.2" y="724.0" font-family="'Liberation Sans', sans-serif" font-size="27.8" font-weight="bold" font-style="italic" fill="#2e3192" textLength="77.4" lengthAdjust="spacingAndGlyphs" stroke="#2e3192" stroke-width="0.35">72.252</text>
<rect x="570.6" y="170.5" width="75.9" height="30.8" fill="#ec6c48"/>
<text x="574.9" y="194.7" font-family="'Liberation Sans', sans-serif" font-size="25.1" font-weight="normal" font-style="normal" fill="#ffffff" textLength="67.3" lengthAdjust="spacingAndGlyphs" stroke="#ffffff" stroke-width="0.8">BENI</text>
<text x="535.0" y="228.4" font-family="'Liberation Sans', sans-serif" font-size="16.8" font-weight="normal" font-style="italic" fill="#1d1d1b" textLength="73.3" lengthAdjust="spacingAndGlyphs">1ra. dósis</text>
<text x="617.2" y="231.9" font-family="'Liberation Sans', sans-serif" font-size="28.7" font-weight="bold" font-style="italic" fill="#12321f" textLength="95.4" lengthAdjust="spacingAndGlyphs" stroke="#12321f" stroke-width="0.35">136.561</text>
<rect x="614.4" y="234.3" width="89.2" height="1.9" fill="#45a99b"/>
<text x="532.0" y="258.0" font-family="'Liberation Sans', sans-serif" font-size="16.8" font-weight="normal" font-style="italic" fill="#1d1d1b" textLength="78.0" lengthAdjust="spacingAndGlyphs">2da. dósis</text>
<text x="618.5" y="260.7" font-family="'Liberation Sans', sans-serif" font-size="28.7" font-weight="bold" font-style="italic" fill="#000000" textLength="81.0" lengthAdjust="spacingAndGlyphs" stroke="#000000" stroke-width="0.35">96.672</text>
<rect x="609.4" y="265.1" width="89.2" height="1.9" fill="#45a99b"/>
<text x="527.0" y="291.3" font-family="'Liberation Sans', sans-serif" font-size="16.8" font-weight="normal" font-style="italic" fill="#2e3192" textLength="88.3" lengthAdjust="spacingAndGlyphs">Dósis única</text>
<text x="622.2" y="291.5" font-family="'Liberation Sans', sans-serif" font-size="28.2" font-weight="bold" font-style="italic" fill="#2e3192" textLength="79.4" lengthAdjust="spacingAndGlyphs" stroke="#2e3192" stroke-width="0.35">10.806</text>
<rect x="634.3" y="306.3" width="188.6" height="30.5" fill="#ec6c48"/>
<text x="640.3" y="330.3" font-family="'Liberation Sans', sans-serif" font-size="26.0" font-weight="normal" font-style="normal" fill="#ffffff" textLength="176.8" lengthAdjust="spacingAndGlyphs" stroke="#ffffff" stroke-width="0.8">SANTA CRUZ</text>
<text x="661.9" y="365.4" font-family="'Liberation Sans', sans-serif" font-size="16.8" font-weight="normal" font-style="italic" fill="#1d1d1b" textLength="72.7" lengthAdjust="spacingAndGlyphs">1ra. dósis</text>
<text x="738.0" y="362.6" font-family="'Liberation Sans', sans-serif" font-size="29.0" font-weight="bold" font-style="italic" fill="#12321f" textLength="117.9" lengthAdjust="spacingAndGlyphs" stroke="#12321f" stroke-width="0.35">1.023.542</text>
<rect x="746.0" y="369.3" width="88.7" height="1.9" fill="#45a99b"/>
<text x="658.9" y="395.0" font-family="'Liberation Sans', sans-serif" font-size="16.8" font-weight="normal" font-style="italic" fill="#1d1d1b" textLength="77.7" lengthAdjust="spacingAndGlyphs">2da. dósis</text>
<text x="746.0" y="395.2" font-family="'Liberation Sans', sans-serif" font-size="29.0" font-weight="bold" font-style="italic" fill="#12321f" textLength="91.6" lengthAdjust="spacingAndGlyphs" stroke="#12321f" stroke-width="0.35">716.492</text>
<rect x="746.5" y="400.1" width="88.9" height="1.9" fill="#45a99b"/>
<text x="662.6" y="424.3" font-family="'Liberation Sans', sans-serif" font-size="16.8" font-weight="normal" font-style="italic" fill="#2e3192" textLength="89.0" lengthAdjust="spacingAndGlyphs">Dósis única</text>
<text x="756.5" y="425.2" font-family="'Liberation Sans', sans-serif" font-size="27.8" font-weight="bold" font-style="italic" fill="#2e3192" textLength="92.7" lengthAdjust="spacingAndGlyphs" stroke="#2e3192" stroke-width="0.35">318.572</text>
<rect x="613.0" y="550.0" width="184.1" height="29.6" fill="#ec6c48"/>
<text x="616.1" y="572.3" font-family="'Liberation Sans', sans-serif" font-size="24.1" font-weight="normal" font-style="normal" fill="#ffffff" textLength="178.7" lengthAdjust="spacingAndGlyphs" stroke="#ffffff" stroke-width="0.8">CHUQUISACA</text>
<text x="633.8" y="605.4" font-family="'Liberation Sans', sans-serif" font-size="16.8" font-weight="normal" font-style="italic" fill="#1d1d1b" textLength="72.8" lengthAdjust="spacingAndGlyphs">1ra. dósis</text>
<text x="714.0" y="605.6" font-family="'Liberation Sans', sans-serif" font-size="28.5" font-weight="bold" font-style="italic" fill="#12321f" textLength="93.1" lengthAdjust="spacingAndGlyphs" stroke="#12321f" stroke-width="0.35">211.507</text>
<rect x="714.0" y="610.6" width="88.4" height="1.9" fill="#45a99b"/>
<text x="628.1" y="637.5" font-family="'Liberation Sans', sans-serif" font-size="16.8" font-weight="normal" font-style="italic" fill="#1d1d1b" textLength="77.7" lengthAdjust="spacingAndGlyphs">2da. dósis</text>
<text x="713.5" y="637.4" font-family="'Liberation Sans', sans-serif" font-size="28.5" font-weight="bold" font-style="italic" fill="#000000" textLength="94.9" lengthAdjust="spacingAndGlyphs" stroke="#000000" stroke-width="0.35">169.805</text>
<rect x="712.2" y="642.4" width="88.7" height="1.9" fill="#45a99b"/>
<text x="622.1" y="666.8" font-family="'Liberation Sans', sans-serif" font-size="16.8" font-weight="normal" font-style="italic" fill="#2e3192" textLength="88.7" lengthAdjust="spacingAndGlyphs">Dósis única</text>
<text x="721.8" y="670.0" font-family="'Liberation Sans', sans-serif" font-size="28.5" font-weight="bold" font-style="italic" fill="#2e3192" textLength="77.3" lengthAdjust="spacingAndGlyphs" stroke="#2e3192" stroke-width="0.35">35.251</text>
<rect x="498.3" y="636.1" width="108.3" height="30.6" fill="#ec6c48"/>
<text x="503.1" y="659.4" font-family="'Liberation Sans', sans-serif" font-size="25.7" font-weight="normal" font-style="normal" fill="#ffffff" textLength="98.0" lengthAdjust="spacingAndGlyphs" stroke="#ffffff" stroke-width="0.8">TARIJA</text>
<text x="437.8" y="696.6" font-family="'Liberation Sans', sans-serif" font-size="16.8" font-weight="normal" font-style="italic" fill="#1d1d1b" textLength="73.1" lengthAdjust="spacingAndGlyphs">1ra. dósis</text>
<text x="515.8" y="696.3" font-family="'Liberation Sans', sans-serif" font-size="28.7" font-weight="bold" font-style="italic" fill="#12321f" textLength="92.5" lengthAdjust="spacingAndGlyphs" stroke="#12321f" stroke-width="0.35">234.399</text>
<rect x="513.3" y="701.8" width="97.8" height="1.9" fill="#45a99b"/>
<text x="432.4" y="726.5" font-family="'Liberation Sans', sans-serif" font-size="16.8" font-weight="normal" font-style="italic" fill="#1d1d1b" textLength="77.7" lengthAdjust="spacingAndGlyphs">2da. dósis</text>
<text x="514.0" y="728.0" font-family="'Liberation Sans', sans-serif" font-size="28.5" font-weight="bold" font-style="italic" fill="#12321f" textLength="91.8" lengthAdjust="spacingAndGlyphs" stroke="#12321f" stroke-width="0.35">196.312</text>
<rect x="513.3" y="734.9" width="97.8" height="1.9" fill="#45a99b"/>
<text x="422.9" y="759.1" font-family="'Liberation Sans', sans-serif" font-size="16.8" font-weight="normal" font-style="italic" fill="#2e3192" textLength="88.0" lengthAdjust="spacingAndGlyphs">Dósis única</text>
<text x="516.5" y="761.6" font-family="'Liberation Sans', sans-serif" font-size="28.5" font-weight="bold" font-style="italic" fill="#2e3192" textLength="79.4" lengthAdjust="spacingAndGlyphs" stroke="#2e3192" stroke-width="0.35">34.084</text>
<rect x="888.2" y="124.5" width="289.1" height="144.1" rx="7" fill="#ffffff" stroke="#0c6ba4" stroke-width="1.7"/>
<path d="M887.35,205.6 a6,6 0 0 1 6,-6 H1172.1499999999999 a6,6 0 0 1 6,6 V262.45000000000005 a7,7 0 0 1 -7,7 H894.35 a7,7 0 0 1 -7,-7 Z" fill="#0c6ba4"/>
<text x="922.8" y="156.7" font-family="'Liberation Sans', sans-serif" font-size="32.5" font-weight="bold" font-style="italic" fill="#1a1a1a" textLength="224.2" lengthAdjust="spacingAndGlyphs" stroke="#1a1a1a" stroke-width="0.5">Total vacunados</text>
<text x="968.0" y="192.2" font-family="'Liberation Sans', sans-serif" font-size="32.5" font-weight="bold" font-style="italic" fill="#1a1a1a" textLength="132.6" lengthAdjust="spacingAndGlyphs" stroke="#1a1a1a" stroke-width="0.5">1ra. dosis</text>
<text x="898.0" y="257.8" font-family="'Liberation Sans', sans-serif" font-size="62.5" font-weight="bold" font-style="normal" fill="#ffffff" textLength="265.0" lengthAdjust="spacingAndGlyphs">3.485.586</text>
<rect x="888.2" y="279.5" width="289.1" height="143.0" rx="7" fill="#ffffff" stroke="#22a69a" stroke-width="1.7"/>
<path d="M887.35,360.4 a6,6 0 0 1 6,-6 H1172.1499999999999 a6,6 0 0 1 6,6 V416.35 a7,7 0 0 1 -7,7 H894.35 a7,7 0 0 1 -7,-7 Z" fill="#22a69a"/>
<text x="922.8" y="311.3" font-family="'Liberation Sans', sans-serif" font-size="32.5" font-weight="bold" font-style="italic" fill="#1a1a1a" textLength="224.2" lengthAdjust="spacingAndGlyphs" stroke="#1a1a1a" stroke-width="0.5">Total vacunados</text>
<text x="964.2" y="346.0" font-family="'Liberation Sans', sans-serif" font-size="32.5" font-weight="bold" font-style="italic" fill="#1a1a1a" textLength="138.6" lengthAdjust="spacingAndGlyphs" stroke="#1a1a1a" stroke-width="0.5">2da. dosis</text>
<text x="907.0" y="411.0" font-family="'Liberation Sans', sans-serif" font-size="62.3" font-weight="bold" font-style="normal" fill="#ffffff" textLength="266.0" lengthAdjust="spacingAndGlyphs">2.623.434</text>
<rect x="888.2" y="434.5" width="289.1" height="143.9" rx="7" fill="#ffffff" stroke="#29235c" stroke-width="1.7"/>
<path d="M887.35,515.6 a6,6 0 0 1 6,-6 H1172.1499999999999 a6,6 0 0 1 6,6 V572.25 a7,7 0 0 1 -7,7 H894.35 a7,7 0 0 1 -7,-7 Z" fill="#29235c"/>
<text x="922.8" y="466.3" font-family="'Liberation Sans', sans-serif" font-size="32.5" font-weight="bold" font-style="italic" fill="#1a1a1a" textLength="224.2" lengthAdjust="spacingAndGlyphs" stroke="#1a1a1a" stroke-width="0.5">Total vacunados</text>
<text x="900.5" y="501.0" font-family="'Liberation Sans', sans-serif" font-size="32.5" font-weight="bold" font-style="italic" fill="#1a1a1a" textLength="266.0" lengthAdjust="spacingAndGlyphs" stroke="#1a1a1a" stroke-width="0.5">Dósis única(Janssen)</text>
<text x="925.3" y="564.2" font-family="'Liberation Sans', sans-serif" font-size="61.5" font-weight="bold" font-style="normal" fill="#ffffff" textLength="215.2" lengthAdjust="spacingAndGlyphs">901.787</text>
<rect x="884.1" y="589.5" width="297.5" height="106.9" fill="url(#ib1)"/>
<text x="911.6" y="611.4" font-family="'Liberation Sans', sans-serif" font-size="17.6" font-weight="normal" font-style="italic" fill="#1a6e9e" textLength="243.2" lengthAdjust="spacingAndGlyphs">Dosis Sputnik - V, Sinopharm,</text>
<text x="908.5" y="630.3" font-family="'Liberation Sans', sans-serif" font-size="17.6" font-weight="normal" font-style="italic" fill="#1a6e9e" textLength="248.5" lengthAdjust="spacingAndGlyphs">AstraZeneca, Pfizer y Janssen</text>
<text x="932.5" y="649.3" font-family="'Liberation Sans', sans-serif" font-size="17.6" font-weight="normal" font-style="italic" fill="#1a6e9e" textLength="201.5" lengthAdjust="spacingAndGlyphs">para personal de salud y</text>
<text x="913.5" y="668.3" font-family="'Liberation Sans', sans-serif" font-size="17.6" font-weight="normal" font-style="italic" fill="#1a6e9e" textLength="239.0" lengthAdjust="spacingAndGlyphs">personas con enfermedad de</text>
<text x="916.5" y="687.7" font-family="'Liberation Sans', sans-serif" font-size="17.6" font-weight="normal" font-style="italic" fill="#1a6e9e" textLength="232.5" lengthAdjust="spacingAndGlyphs">base y mayores de 18 años.</text>
<rect x="884.1" y="703.9" width="297.5" height="72.5" fill="url(#ib2)"/>
<text x="940.7" y="727.3" font-family="'Liberation Sans', sans-serif" font-size="15.6" font-weight="normal" font-style="italic" fill="#1a1a1a" textLength="184.3" lengthAdjust="spacingAndGlyphs">Los datos se muestran en</text>
<text x="921.8" y="745.5" font-family="'Liberation Sans', sans-serif" font-size="15.6" font-weight="normal" font-style="italic" fill="#1a1a1a" textLength="222.8" lengthAdjust="spacingAndGlyphs">Primeras dósis Segundas dósis</text>
<text x="944.5" y="763.6" font-family="'Liberation Sans', sans-serif" font-size="15.6" font-weight="normal" font-style="italic" fill="#1a1a1a" textLength="177.5" lengthAdjust="spacingAndGlyphs">y Dósis únicas (Janssen)</text>
<g transform="translate(801.5 721.5) rotate(-15.2)">
<rect x="-29.8" y="-1.5" width="14.8" height="50" fill="#1a4f9e"/>
<rect x="-25.6" y="4.5" width="6" height="38" fill="#e5142c"/>
<rect x="-15.5" y="13.5" width="17" height="18" fill="#1a4f9e"/>
<rect x="-12.5" y="17.5" width="10.5" height="10.5" fill="#fdc818"/>
<rect x="2.5" y="2.5" width="100" height="39.6" fill="#8fc92e" stroke="#1a4f9e" stroke-width="5"/>
<rect x="104" y="8" width="14" height="26.5" fill="#1f78b8"/>
<rect x="107.5" y="12" width="5" height="17" fill="#0f8a4a"/>
<rect x="117.5" y="18.5" width="22.5" height="4" fill="#2a9fd0"/>
<text x="14.5" y="19.6" transform="rotate(-5.8 14.5 19.6)" font-family="'Liberation Sans', sans-serif" font-size="14" font-weight="bold" font-style="italic" fill="#ec1e79" stroke="#ec1e79" stroke-width="0.5" textLength="56" lengthAdjust="spacingAndGlyphs">Dosis de</text>
<text x="5.7" y="36.3" transform="rotate(-4 5.7 36.3)" font-family="'Liberation Sans', sans-serif" font-size="17" fill="url(#esp)" stroke="url(#esp)" stroke-width="0.5" textLength="92" lengthAdjust="spacingAndGlyphs">ESPERANZA</text>
</g>
<circle cx="42.9" cy="757.5" r="17.3" fill="#ffffff"/>
<circle cx="42.9" cy="757.5" r="15" fill="#2a74bc"/>
<path d="M42.9,747.9 l7.6,2.8 v5.6 c0,5.6 -3.6,8.6 -7.6,10.8 c-4,-2.2 -7.6,-5.2 -7.6,-10.8 v-5.6 z" fill="#e91e8c" stroke="#ffffff" stroke-width="1.5" stroke-linejoin="round"/>
<path d="M39.699999999999996,756.9 l2.6,2.6 l4.8,-5" fill="none" stroke="#ffffff" stroke-width="1.9" stroke-linecap="round" stroke-linejoin="round"/>
<circle cx="95.8" cy="757.5" r="17.3" fill="#ffffff"/>
<circle cx="95.8" cy="757.5" r="15" fill="#f09132"/>
<circle cx="95.8" cy="757.5" r="8.8" fill="#f3ae4e" stroke="#fdeccc" stroke-width="1.9"/>
<path d="M91.2,755.9 q1.5,-2 3,0 M97.39999999999999,755.9 q1.5,-2 3,0" fill="none" stroke="#fdeccc" stroke-width="1.2" stroke-linecap="round"/>
<path d="M91.6,759.1 q4.2,5 8.4,0" fill="none" stroke="#fdeccc" stroke-width="1.5" stroke-linecap="round"/>
<circle cx="151.5" cy="757.5" r="17.3" fill="#ffffff"/>
<circle cx="151.5" cy="757.5" r="15" fill="#2aa59a"/>
<path d="M147.70000000000002,762.1 l-3.6,-5 l1.4,-1.3 l2.2,1.8 v-8.2 a0.9,0.9 0 0 1 1.8,0 v-1.4 a0.9,0.9 0 0 1 1.8,0 v0.2 a0.9,0.9 0 0 1 1.8,0 v1.2 a0.9,0.9 0 0 1 1.8,0 v10.5 l-1.2,2.2 z" fill="#fdf0dc" stroke="#ffffff" stroke-width="0.8" stroke-linejoin="round"/>
<path d="M147.70000000000002,762.1 l-3.4,-4.8 l1.3,-1.2 l2.1,1.8 v-3 h7.2 v5 l-1.2,2.2 z" fill="#f08c32"/>
<rect x="146.70000000000002" y="762.1" width="10" height="11" fill="#ffffff"/>
<rect x="148.70000000000002" y="763.5" width="7" height="1.3" fill="#2a5fa8"/>
<rect x="148.5" y="766.3" width="7.4" height="6" fill="#2a5fa8"/>
<circle cx="151.5" cy="757.5" r="16.1" fill="none" stroke="#ffffff" stroke-width="2.3"/>
<circle cx="209.9" cy="757.5" r="17.3" fill="#ffffff"/>
<circle cx="209.9" cy="757.5" r="15" fill="#28965a"/>
<g fill="none" stroke="#ffffff" stroke-width="1.1" stroke-linecap="round" stroke-linejoin="round"><path d="M209.9,748.5 v17.6 M203.3,766.3 h13.2 M201.5,751.1 h16.8"/><path d="M203.70000000000002,751.1 l-3.6,8 h7.2 z M216.1,751.1 l-3.6,8 h7.2 z"/><path d="M200.1,759.1 q3.6,4.6 7.2,0 M212.5,759.1 q3.6,4.6 7.2,0"/></g>
<text x="24.8" y="786.9" font-family="'Liberation Sans', sans-serif" font-size="11.0" font-weight="bold" font-style="normal" fill="#1d2a24" textLength="34.5" lengthAdjust="spacingAndGlyphs">Segura</text>
<text x="77.0" y="786.9" font-family="'Liberation Sans', sans-serif" font-size="11.0" font-weight="bold" font-style="normal" fill="#1d2a24" textLength="39.5" lengthAdjust="spacingAndGlyphs">Gratuita</text>
<text x="126.6" y="787.8" font-family="'Liberation Sans', sans-serif" font-size="11.0" font-weight="bold" font-style="normal" fill="#1d2a24" textLength="50.3" lengthAdjust="spacingAndGlyphs">Voluntaria</text>
<text x="185.1" y="786.9" font-family="'Liberation Sans', sans-serif" font-size="11.0" font-weight="bold" font-style="normal" fill="#1d2a24" textLength="49.2" lengthAdjust="spacingAndGlyphs">Equitativa</text>
</svg>
</body>
</html>
